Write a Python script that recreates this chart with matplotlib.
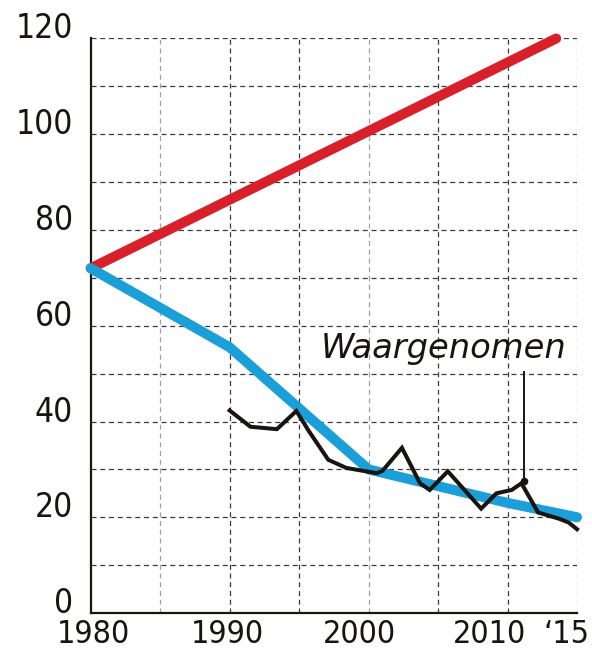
import matplotlib
matplotlib.use('Agg')
import matplotlib.pyplot as plt
import matplotlib.transforms as mtransforms

# Data
years_red = [1980, 2013.5]
values_red = [72, 120]

years_blue = [1980, 1990, 2000, 2005, 2010, 2015]
values_blue = [72, 55.5, 30, 26.5, 23, 20]

# observed values (Waargenomen)
years_obs = [1990, 1991.5, 1993.4, 1994.8, 1995.7, 1997.1, 1998.4, 2000.6, 2001.0,
             2002.4, 2003.7, 2004.4, 2005.7, 2006.9, 2008.1, 2009.2, 2010.3, 2011.0,
             2012.2, 2013.7, 2014.4, 2015]
values_obs = [42.3, 38.9, 38.4, 42.2, 38.0, 32.0, 30.3, 29.2, 29.7,
              34.5, 27.1, 25.7, 29.6, 25.7, 21.8, 25.0, 25.7, 27.1,
              21.0, 19.7, 18.9, 17.5]

xticks = [1980, 1990, 2000, 2010, 2015]
xtick_labels = ['1980', '1990', '2000', '2010', '\u201815']
yticks = [0, 20, 40, 60, 80, 100, 120]

label_x, label_y = 2011.2, 27.6   # point the label refers to
label_top = 50.3

RED = '#d7202a'
BLUE = '#1a9fd8'
GRID = '#3a3a3a'
GRID_LIGHT = '#a0a0a0'
INK = '#1a1410'


def main():
    plt.rcParams['font.family'] = ['DejaVu Sans']
    plt.rcParams['font.stretch'] = 'condensed'
    fig = plt.figure(figsize=(5.92, 6.5), dpi=100)
    ax = fig.add_axes([0.1532, 0.0569, 0.9747 - 0.1532, 0.9408 - 0.0569])

    ax.set_xlim(1980, 2015)
    ax.set_ylim(0, 120)

    # dashed grid every 5 years / 10 units
    for x in range(1985, 2016, 5):
        c = GRID_LIGHT if x in (1985, 2000, 2015) else GRID
        ax.axvline(x, color=c, lw=0.9, dashes=(4, 3), zorder=1)
    for y in range(10, 121, 10):
        ax.axhline(y, color=GRID, lw=0.9, dashes=(4, 3), zorder=1)

    ax.plot(years_red, values_red, color=RED, lw=7.2, solid_capstyle='round',
            zorder=3, clip_on=False)
    ax.plot(years_blue, values_blue, color=BLUE, lw=7.2, solid_capstyle='round',
            solid_joinstyle='round', zorder=3, clip_on=False)
    ax.plot(years_obs, values_obs, color=INK, lw=2.9, solid_joinstyle='miter',
            zorder=4, clip_on=False)

    # annotation
    ax.plot([label_x, label_x], [label_y, label_top], color=INK, lw=1.4, zorder=5)
    ax.plot([label_x], [label_y], 'o', color=INK, ms=4.5, zorder=5)
    ax.text(2005.4, 53.2, 'Waargenomen', ha='center', va='baseline',
            fontsize=24.3, style='italic', fontstretch='normal', color=INK)

    for s in ['top', 'right']:
        ax.spines[s].set_visible(False)
    for s in ['left', 'bottom']:
        ax.spines[s].set_linewidth(1.6)
        ax.spines[s].set_color(INK)

    ax.set_xticks(xticks)
    ax.set_xticklabels(xtick_labels)
    ax.set_yticks(yticks)
    ax.tick_params(length=0, labelsize=24, labelcolor=INK)
    ax.tick_params(axis='x', labelsize=23, pad=4.5)
    ax.tick_params(axis='y', pad=12.7)
    for lab in ax.get_yticklabels():
        lab.set_va('baseline')

    # shift x labels a little, as in the original layout
    shifts = [3, -2, -9, -18, -11]
    for lab, dx in zip(ax.get_xticklabels(), shifts):
        lab.set_transform(lab.get_transform() +
                          mtransforms.ScaledTranslation(dx / 100, 0, fig.dpi_scale_trans))

    fig.savefig('out.png', dpi=100)


if __name__ == '__main__':
    main()
